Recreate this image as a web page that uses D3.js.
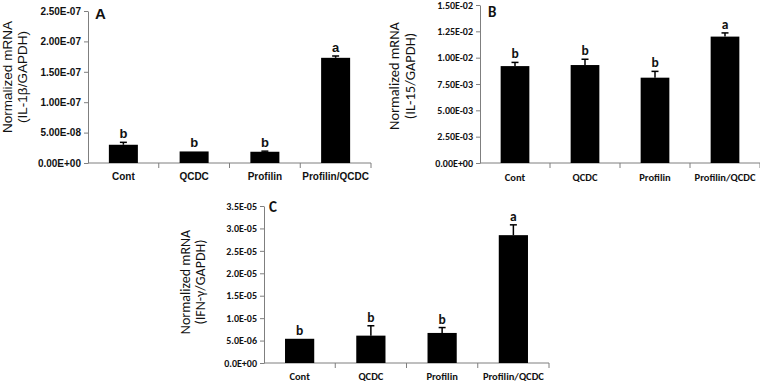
<!DOCTYPE html>
<html>
<head>
<meta charset="utf-8">
<script src="https://cdn.jsdelivr.net/npm/d3@7"></script>
<style>
  body { margin: 0; background: #fff; }
  svg { display: block; }
</style>
</head>
<body>
<div id="visualization"></div>
<script>
let w = 760;
let h = 383;

// data
const categories = ["Cont", "QCDC", "Profilin", "Profilin/QCDC"];

const il1bMeans = [3.0e-8, 1.9e-8, 1.85e-8, 1.73e-7];
const il1bErrors = [0.4e-8, 0, 0.1e-8, 0.03e-7];
const il1bLetters = ["b", "b", "b", "a"];
const il1bTicks = [0, 5e-8, 1e-7, 1.5e-7, 2e-7, 2.5e-7];

const il15Means = [9.2e-3, 9.3e-3, 8.1e-3, 1.2e-2];
const il15Errors = [0.35e-3, 0.55e-3, 0.6e-3, 0.35e-3];
const il15Letters = ["b", "b", "b", "a"];
const il15Ticks = [0, 2.5e-3, 5e-3, 7.5e-3, 1e-2, 1.25e-2, 1.5e-2];

const ifngMeans = [5.4e-6, 6.1e-6, 6.7e-6, 2.85e-5];
const ifngErrors = [0, 2.2e-6, 1.2e-6, 2.3e-6];
const ifngLetters = ["b", "b", "b", "a"];
const ifngTicks = [0, 5e-6, 1e-5, 1.5e-5, 2e-5, 2.5e-5, 3e-5, 3.5e-5];

let viz = d3.select("#visualization")
  .append("svg")
  .attr("width", w)
  .attr("height", h);

// excel style number: 2.50E-07
function sciFormat(digits) {
  return function(v) {
    let s = v.toExponential(digits).toUpperCase();
    let parts = s.split("E");
    let exp = parseInt(parts[1]);
    let sign = exp < 0 ? "-" : "+";
    let e = String(Math.abs(exp)).padStart(2, "0");
    return parts[0] + "E" + sign + e;
  };
}

function drawPanel(p) {
  let g = viz.append("g").attr("class", "panel");

  let xScale = d3.scaleBand()
    .domain(categories)
    .range([p.x0, p.x1])
    .paddingInner(0.59)
    .paddingOuter(0.295);

  let yScale = d3.scaleLinear()
    .domain([0, p.max])
    .range([p.yBottom, p.yTop]);

  // y axis
  let yAxis = d3.axisLeft(yScale)
    .tickValues(p.ticks)
    .tickFormat(sciFormat(p.digits))
    .tickSize(4)
    .tickSizeOuter(0);
  let yAxisGroup = g.append("g")
    .attr("transform", "translate(" + p.x0 + ",0)")
    .call(yAxis);
  yAxisGroup.selectAll("path, line").attr("stroke", "#7f7f7f");
  yAxisGroup.selectAll("text")
    .attr("font-family", p.font)
    .attr("font-weight", "bold")
    .attr("font-size", p.tickSize)
    .attr("fill", "#111")
    .attr("x", -7);

  // x axis line with ticks between categories
  g.append("line")
    .attr("x1", p.x0).attr("x2", p.x1)
    .attr("y1", p.yBottom).attr("y2", p.yBottom)
    .attr("stroke", "#7f7f7f");
  let step = xScale.step();
  g.selectAll(".xtick").data(d3.range(1, categories.length + 1)).enter()
    .append("line")
    .attr("class", "xtick")
    .attr("x1", d => p.x0 + d * step)
    .attr("x2", d => p.x0 + d * step)
    .attr("y1", p.yBottom)
    .attr("y2", p.yBottom + 5)
    .attr("stroke", "#7f7f7f");

  g.selectAll(".xlabel").data(categories).enter()
    .append("text")
    .attr("class", "xlabel")
    .attr("x", d => xScale(d) + xScale.bandwidth() / 2)
    .attr("y", p.labelY)
    .attr("text-anchor", "middle")
    .attr("font-family", p.font)
    .attr("font-weight", "bold")
    .attr("font-size", p.catSize)
    .attr("fill", "#111")
    .text(d => d);

  let rows = categories.map((c, i) => ({
    cat: c, mean: p.means[i], err: p.errors[i], letter: p.letters[i]
  }));

  // bars
  g.selectAll(".bar").data(rows).enter()
    .append("rect")
    .attr("class", "bar")
    .attr("x", d => xScale(d.cat))
    .attr("y", d => yScale(d.mean))
    .attr("width", xScale.bandwidth())
    .attr("height", d => p.yBottom - yScale(d.mean))
    .attr("fill", "#000");

  // error bars (upper only)
  let cx = d => xScale(d.cat) + xScale.bandwidth() / 2;
  g.selectAll(".errline").data(rows.filter(d => d.err > 0)).enter()
    .append("line")
    .attr("x1", cx).attr("x2", cx)
    .attr("y1", d => yScale(d.mean))
    .attr("y2", d => yScale(d.mean + d.err))
    .attr("stroke", "#000")
    .attr("stroke-width", 1.5);
  g.selectAll(".errcap").data(rows.filter(d => d.err > 0)).enter()
    .append("line")
    .attr("x1", d => cx(d) - 3.5).attr("x2", d => cx(d) + 3.5)
    .attr("y1", d => yScale(d.mean + d.err))
    .attr("y2", d => yScale(d.mean + d.err))
    .attr("stroke", "#000")
    .attr("stroke-width", 1.5);

  // significance letters
  g.selectAll(".letter").data(rows).enter()
    .append("text")
    .attr("x", cx)
    .attr("y", d => yScale(d.mean + d.err) - 4)
    .attr("text-anchor", "middle")
    .attr("font-family", p.font)
    .attr("font-weight", "bold")
    .attr("font-size", p.letterSize)
    .attr("fill", "#111")
    .text(d => d.letter);

  // panel letter
  g.append("text")
    .attr("x", p.tagX)
    .attr("y", p.tagY)
    .attr("font-family", p.font)
    .attr("font-weight", "bold")
    .attr("font-size", 15)
    .attr("fill", "#111")
    .text(p.tag);

  // y title, two lines
  p.title.forEach((t, i) => {
    g.append("text")
      .attr("transform", "translate(" + p.titleX[i] + "," + p.titleY + ") rotate(-90)")
      .attr("text-anchor", "middle")
      .attr("font-family", p.font)
      .attr("font-size", p.titleSize)
      .attr("fill", "#111")
      .text(t);
  });
}

drawPanel({
  x0: 88, x1: 371, yTop: 11, yBottom: 163, max: 2.5e-7,
  means: il1bMeans, errors: il1bErrors, letters: il1bLetters,
  ticks: il1bTicks, digits: 2,
  font: "'Liberation Sans', Arial, sans-serif",
  tickSize: 10, catSize: 10, letterSize: 13, titleSize: 13.5,
  labelY: 180, tag: "A", tagX: 95, tagY: 19,
  title: ["Normalized mRNA", "(IL-1β/GAPDH)"], titleX: [12, 27], titleY: 77
});

drawPanel({
  x0: 480, x1: 760, yTop: 5, yBottom: 163, max: 0.015,
  means: il15Means, errors: il15Errors, letters: il15Letters,
  ticks: il15Ticks, digits: 2,
  font: "Carlito, Lato, sans-serif",
  tickSize: 10, catSize: 10.5, letterSize: 13.5, titleSize: 14.5,
  labelY: 181, tag: "B", tagX: 488, tagY: 17,
  title: ["Normalized mRNA", "(IL-15/GAPDH)"], titleX: [399, 415], titleY: 76
});

drawPanel({
  x0: 264, x1: 549, yTop: 206, yBottom: 363, max: 3.5e-5,
  means: ifngMeans, errors: ifngErrors, letters: ifngLetters,
  ticks: ifngTicks, digits: 1,
  font: "Carlito, Lato, sans-serif",
  tickSize: 10, catSize: 10.5, letterSize: 13.5, titleSize: 14,
  labelY: 380, tag: "C", tagX: 269, tagY: 212,
  title: ["Normalized mRNA", "(IFN-γ/GAPDH)"], titleX: [190, 205], titleY: 282
});
</script>
</body>
</html>
